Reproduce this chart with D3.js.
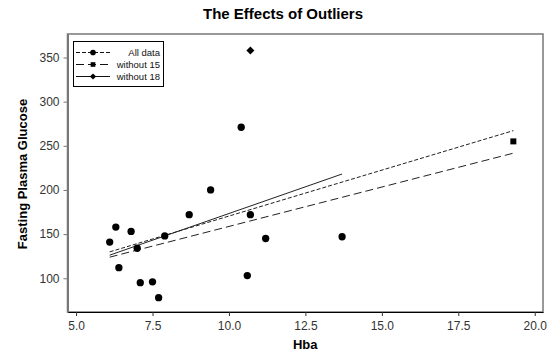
<!DOCTYPE html>
<html>
<head>
<meta charset="utf-8">
<script src="https://cdn.jsdelivr.net/npm/d3@7"></script>
<style>
  html, body { margin: 0; padding: 0; background: #fff; }
  svg { display: block; font-family: "Liberation Sans", Arial, sans-serif; }
</style>
</head>
<body>
<svg id="chart" width="550" height="353"></svg>
<script>
// Observations: HbA1c vs fasting plasma glucose
const hba     = [6.1, 6.3, 6.4, 6.8, 7.0, 7.1, 7.5, 7.7, 7.9, 8.7, 9.4, 10.4, 10.6, 10.7, 11.2, 13.7, 10.7, 19.3];
const glucose = [141, 158, 112, 153, 134, 95, 96, 78, 148, 172, 200, 271, 103, 172, 145, 147, 358, 255];
// marker shape per observation: the two outliers are drawn with their own symbols
const shape   = ["circle","circle","circle","circle","circle","circle","circle","circle","circle",
                 "circle","circle","circle","circle","circle","circle","circle","diamond","square"];

// Fitted lines: which observations (by index) each fit leaves out
const fitNames   = ["All data", "without 15", "without 18"];
const fitExclude = [[], [16], [17]];
const fitMarker  = ["circle", "square", "diamond"];
const fitDash    = ["4,2", "8,4", null];

const xTicks = [5, 7.5, 10, 12.5, 15, 17.5, 20];
const yTicks = [100, 150, 200, 250, 300, 350];

const svg = d3.select("#chart");
const box = { left: 67.5, right: 543, top: 34, bottom: 312 };

const x = d3.scaleLinear().domain([4.72, 20.27]).range([box.left, box.right]);
const y = d3.scaleLinear().domain([61.8, 376.6]).range([box.bottom, box.top]);

const points = hba.map((h, i) => ({ x: h, y: glucose[i], shape: shape[i] }));

function leastSquares(pts) {
  const mx = d3.mean(pts, d => d.x), my = d3.mean(pts, d => d.y);
  const sxy = d3.sum(pts, d => (d.x - mx) * (d.y - my));
  const sxx = d3.sum(pts, d => (d.x - mx) ** 2);
  const b = sxy / sxx, a = my - b * mx;
  const [x0, x1] = d3.extent(pts, d => d.x);
  return [{ x: x0, y: a + b * x0 }, { x: x1, y: a + b * x1 }];
}

// diamond = square turned by 45 degrees
const symbolType = { circle: d3.symbolCircle, square: d3.symbolSquare, diamond: d3.symbolSquare };
const symbolSize = { circle: 42, square: 36, diamond: 32 };
const symbolRot  = { circle: 0, square: 0, diamond: 45 };
const sym = (s, scale = 1) => d3.symbol().type(symbolType[s]).size(symbolSize[s] * scale)();

// Frame
svg.append("rect")
  .attr("x", box.left).attr("y", box.top)
  .attr("width", box.right - box.left).attr("height", box.bottom - box.top)
  .attr("fill", "none").attr("stroke", "#777").attr("stroke-width", 1.5);

// Axes
const xAxis = svg.append("g").attr("transform", `translate(0,${box.bottom})`)
  .call(d3.axisBottom(x).tickValues(xTicks).tickFormat(d3.format(".1f")).tickSizeOuter(0).tickSizeInner(4));
xAxis.select(".domain").attr("stroke", "#000").attr("stroke-width", 1.2);
xAxis.selectAll(".tick line").attr("stroke", "#333");
xAxis.selectAll(".tick text").attr("font-size", 12).attr("fill", "#333").attr("dy", "0.95em")
  .attr("font-family", "'Liberation Sans', Arial, sans-serif");

const yAxis = svg.append("g").attr("transform", `translate(${box.left},0)`)
  .call(d3.axisLeft(y).tickValues(yTicks).tickFormat(d3.format("d")).tickSizeOuter(0).tickSizeInner(4).tickPadding(4));
yAxis.select(".domain").attr("stroke", "#777").attr("stroke-width", 2);
yAxis.selectAll(".tick line").attr("stroke", "#777");
yAxis.selectAll(".tick text").attr("font-size", 12).attr("fill", "#333")
  .attr("font-family", "'Liberation Sans', Arial, sans-serif");

// Titles
svg.append("text").attr("x", 283).attr("y", 19).attr("text-anchor", "middle")
  .attr("font-size", 15).attr("font-weight", "bold").text("The Effects of Outliers");
svg.append("text").attr("x", (box.left + box.right) / 2).attr("y", 349).attr("text-anchor", "middle")
  .attr("font-size", 13).attr("font-weight", "bold").text("Hba");
svg.append("text").attr("transform", `translate(27,174) rotate(-90)`).attr("text-anchor", "middle")
  .attr("font-size", 13).attr("font-weight", "bold").text("Fasting Plasma Glucose");

// Regression lines
const line = d3.line().x(d => x(d.x)).y(d => y(d.y));
fitNames.forEach((name, k) => {
  const pts = points.filter((_, i) => !fitExclude[k].includes(i));
  svg.append("path").datum(leastSquares(pts))
    .attr("d", line).attr("fill", "none").attr("stroke", "#222").attr("stroke-width", 1)
    .attr("stroke-dasharray", fitDash[k]);
});

// Observations
svg.append("g").selectAll("path").data(points).join("path")
  .attr("transform", d => `translate(${x(d.x)},${y(d.y)}) rotate(${symbolRot[d.shape]})`)
  .attr("d", d => sym(d.shape)).attr("fill", "#000");

// Legend
const lg = svg.append("g");
lg.append("rect").attr("x", 73.5).attr("y", 41.5).attr("width", 90).attr("height", 45)
  .attr("fill", "#fff").attr("stroke", "#000").attr("stroke-width", 1);
fitNames.forEach((name, k) => {
  const yy = 52.5 + k * 12;
  const m = fitMarker[k];
  lg.append("line").attr("x1", 76).attr("x2", 110).attr("y1", yy).attr("y2", yy)
    .attr("stroke", "#111").attr("stroke-width", 1).attr("stroke-dasharray", fitDash[k]);
  lg.append("path").attr("transform", `translate(93,${yy}) rotate(${symbolRot[m]})`)
    .attr("d", sym(m, 0.6)).attr("fill", "#000");
  lg.append("text").attr("x", 160).attr("y", yy + 3.5).attr("text-anchor", "end")
    .attr("font-size", 9.5).attr("fill", "#111").text(name);
});
</script>
</body>
</html>
